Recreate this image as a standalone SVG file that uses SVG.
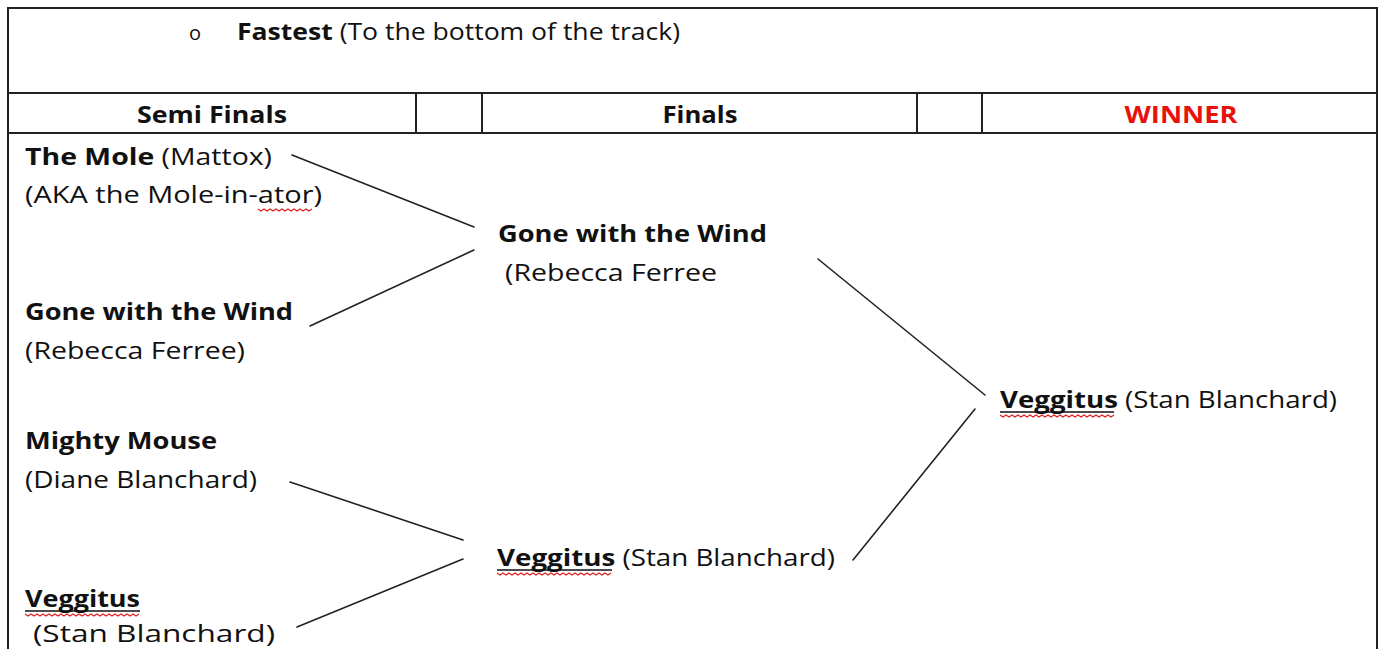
<svg xmlns="http://www.w3.org/2000/svg" width="1380" height="649" viewBox="0 0 1380 649">
<style>
.t{font-family:"Open Sans","Liberation Sans",sans-serif;font-size:24px;fill:#111}
.b{font-weight:bold}
.hd{font-family:"Open Sans","Liberation Sans",sans-serif;font-size:24px;font-weight:bold;fill:#111;text-anchor:middle}
.grid{stroke:#222;stroke-width:2;fill:none}
.con{stroke:#222;stroke-width:1.6;fill:none;stroke-linecap:round}
.sq{stroke:#e02020;stroke-width:1.2;fill:none}
.ul{stroke:#111;stroke-width:1.6}
</style>
<rect width="1380" height="649" fill="#fff"/>
<g id="table">
<path class="grid" d="M8,649 V8 H1377 V649"/>
<line class="grid" x1="8" y1="93" x2="1377" y2="93"/>
<line class="grid" x1="8" y1="133" x2="1377" y2="133"/>
<line class="grid" x1="416" y1="93" x2="416" y2="133"/>
<line class="grid" x1="482" y1="93" x2="482" y2="133"/>
<line class="grid" x1="917" y1="93" x2="917" y2="133"/>
<line class="grid" x1="982" y1="93" x2="982" y2="133"/>
</g>
<g id="title">
<text class="t" x="189" y="40" style="font-size:20px">o</text>
<text class="t" x="237" y="40" textLength="443" lengthAdjust="spacingAndGlyphs"><tspan class="b">Fastest</tspan> (To the bottom of the track)</text>
</g>
<g id="headers">
<text class="hd" x="212" y="123" textLength="150" lengthAdjust="spacingAndGlyphs">Semi Finals</text>
<text class="hd" x="700" y="123" textLength="75" lengthAdjust="spacingAndGlyphs">Finals</text>
<text class="hd" x="1181" y="123" style="fill:#e8120c" textLength="113" lengthAdjust="spacingAndGlyphs">WINNER</text>
</g>
<g id="semi-mole">
<text class="t" x="25" y="165" textLength="247" lengthAdjust="spacingAndGlyphs"><tspan class="b">The Mole</tspan> (Mattox)</text>
<text class="t" x="25" y="203" textLength="297" lengthAdjust="spacingAndGlyphs">(AKA the Mole-in-ator)</text>
<path class="sq" d="M258,209 l3,2 l3,-2 l3,2 l3,-2 l3,2 l3,-2 l3,2 l3,-2 l3,2 l3,-2 l3,2 l3,-2 l3,2 l3,-2 l3,2 l3,-2 l3,2 l3,-2"/>
</g>
<g id="semi-gone">
<text class="t b" x="25" y="320" textLength="268" lengthAdjust="spacingAndGlyphs">Gone with the Wind</text>
<text class="t" x="25" y="359" textLength="220" lengthAdjust="spacingAndGlyphs">(Rebecca Ferree)</text>
</g>
<g id="semi-mouse">
<text class="t b" x="25" y="449" textLength="192" lengthAdjust="spacingAndGlyphs">Mighty Mouse</text>
<text class="t" x="25" y="488" textLength="232" lengthAdjust="spacingAndGlyphs">(Diane Blanchard)</text>
</g>
<g id="semi-veggitus">
<text class="t b" x="25" y="607" textLength="115" lengthAdjust="spacingAndGlyphs">Veggitus</text>
<line class="ul" x1="25" y1="611" x2="140" y2="611"/>
<path class="sq" d="M25,614 l3,2 l3,-2 l3,2 l3,-2 l3,2 l3,-2 l3,2 l3,-2 l3,2 l3,-2 l3,2 l3,-2 l3,2 l3,-2 l3,2 l3,-2 l3,2 l3,-2 l3,2 l3,-2 l3,2 l3,-2 l3,2 l3,-2 l3,2 l3,-2 l3,2 l3,-2 l3,2 l3,-2 l3,2 l3,-2 l3,2 l3,-2 l3,2 l3,-2 l3,2 l3,-2"/>
<text class="t" x="33" y="642" textLength="242" lengthAdjust="spacingAndGlyphs">(Stan Blanchard)</text>
</g>
<g id="final-gone">
<text class="t b" x="498" y="242" textLength="269" lengthAdjust="spacingAndGlyphs">Gone with the Wind</text>
<text class="t" x="505" y="281" textLength="212" lengthAdjust="spacingAndGlyphs">(Rebecca Ferree</text>
</g>
<g id="final-veggitus">
<text class="t" x="497" y="566" textLength="338" lengthAdjust="spacingAndGlyphs"><tspan class="b">Veggitus</tspan> (Stan Blanchard)</text>
<line class="ul" x1="497" y1="570" x2="612" y2="570"/>
<path class="sq" d="M497,573 l3,2 l3,-2 l3,2 l3,-2 l3,2 l3,-2 l3,2 l3,-2 l3,2 l3,-2 l3,2 l3,-2 l3,2 l3,-2 l3,2 l3,-2 l3,2 l3,-2 l3,2 l3,-2 l3,2 l3,-2 l3,2 l3,-2 l3,2 l3,-2 l3,2 l3,-2 l3,2 l3,-2 l3,2 l3,-2 l3,2 l3,-2 l3,2 l3,-2 l3,2 l3,-2"/>
</g>
<g id="winner">
<text class="t" x="1000" y="408" textLength="337" lengthAdjust="spacingAndGlyphs"><tspan class="b">Veggitus</tspan> (Stan Blanchard)</text>
<line class="ul" x1="1000" y1="412" x2="1114" y2="412"/>
<path class="sq" d="M1000,415 l3,2 l3,-2 l3,2 l3,-2 l3,2 l3,-2 l3,2 l3,-2 l3,2 l3,-2 l3,2 l3,-2 l3,2 l3,-2 l3,2 l3,-2 l3,2 l3,-2 l3,2 l3,-2 l3,2 l3,-2 l3,2 l3,-2 l3,2 l3,-2 l3,2 l3,-2 l3,2 l3,-2 l3,2 l3,-2 l3,2 l3,-2 l3,2 l3,-2 l3,2 l3,-2"/>
</g>
<g id="connectors">
<line class="con" x1="292" y1="155" x2="474" y2="227"/>
<line class="con" x1="310" y1="326" x2="474" y2="250"/>
<line class="con" x1="290" y1="482" x2="463" y2="540"/>
<line class="con" x1="297" y1="627" x2="463" y2="559"/>
<line class="con" x1="818" y1="259" x2="985" y2="395"/>
<line class="con" x1="853" y1="560" x2="975" y2="409"/>
</g>
</svg>
